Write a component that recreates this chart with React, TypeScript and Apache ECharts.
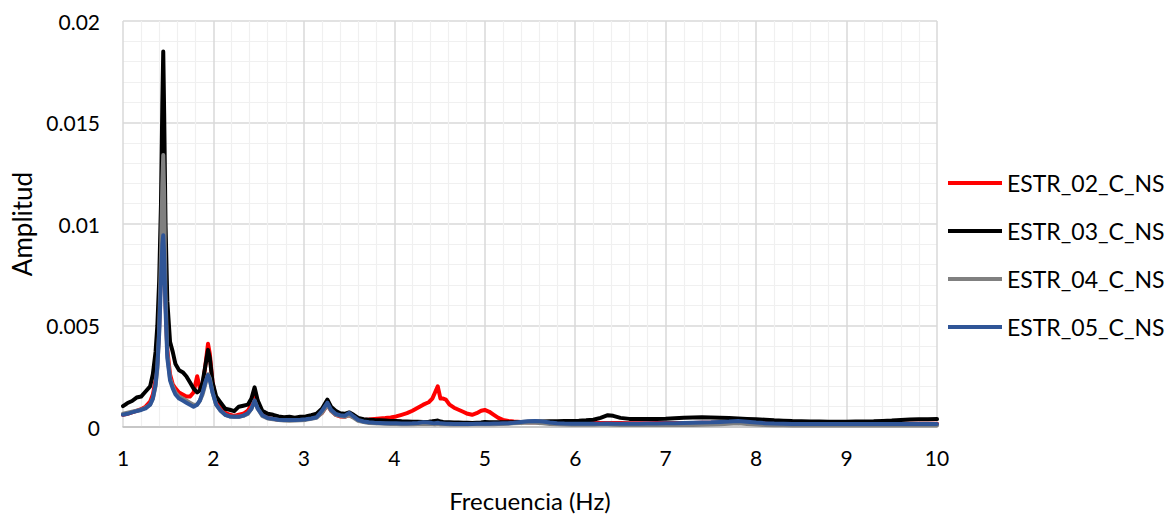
import React, { useEffect, useRef } from "react";
import * as echarts from "echarts";

const seriesNames = ["ESTR_02_C_NS", "ESTR_03_C_NS", "ESTR_04_C_NS", "ESTR_05_C_NS"];

const freq = [
  1.00, 1.05, 1.10, 1.15, 1.20, 1.25, 1.30, 1.33, 1.36, 1.38,
  1.40, 1.42, 1.435, 1.445, 1.455, 1.47, 1.49, 1.52, 1.55, 1.58,
  1.62, 1.66, 1.70, 1.74, 1.78, 1.82, 1.85, 1.88, 1.91, 1.94,
  1.96, 1.99, 2.03, 2.08, 2.13, 2.18, 2.23, 2.28, 2.33, 2.38,
  2.42, 2.455, 2.49, 2.54, 2.60, 2.66, 2.72, 2.78, 2.84, 2.90,
  2.96, 3.02, 3.08, 3.14, 3.20, 3.26, 3.30, 3.35, 3.40, 3.45,
  3.50, 3.55, 3.60, 3.66, 3.72, 3.78, 3.84, 3.90, 3.96, 4.02,
  4.08, 4.14, 4.20, 4.26, 4.32, 4.38, 4.42, 4.45, 4.48, 4.51,
  4.54, 4.57, 4.61, 4.66, 4.71, 4.76, 4.81, 4.86, 4.91, 4.96,
  5.00, 5.05, 5.10, 5.15, 5.20, 5.26, 5.32, 5.40, 5.48, 5.56,
  5.64, 5.72, 5.80, 5.88, 5.96, 6.04, 6.12, 6.20, 6.28, 6.36,
  6.42, 6.50, 6.60, 6.70, 6.80, 6.90, 7.00, 7.10, 7.20, 7.30,
  7.40, 7.50, 7.60, 7.70, 7.80, 7.90, 8.00, 8.10, 8.20, 8.30,
  8.40, 8.50, 8.60, 8.70, 8.80, 8.90, 9.00, 9.10, 9.20, 9.30,
  9.40, 9.50, 9.60, 9.70, 9.80, 9.90, 10.00,
];

const estr02 = [
  0.00060, 0.00065, 0.00072, 0.00080, 0.00088, 0.00100, 0.00125, 0.00160, 0.00230, 0.00320,
  0.0050, 0.0080, 0.0102, 0.0107, 0.0095, 0.0062, 0.0038, 0.0026, 0.0021, 0.0019,
  0.0017, 0.0016, 0.0015, 0.0015, 0.0017, 0.0025, 0.0019, 0.0020, 0.0030, 0.0041,
  0.0036, 0.0022, 0.0013, 0.0009, 0.0007, 0.0006, 0.00055, 0.0006, 0.00065, 0.0008,
  0.0011, 0.0015, 0.0010, 0.0006, 0.00045, 0.0004, 0.00036, 0.00035, 0.00036, 0.00036,
  0.00038, 0.0004, 0.00045, 0.0005, 0.0007, 0.0011, 0.0008, 0.0006, 0.00052, 0.0005,
  0.00058, 0.00048, 0.00038, 0.00035, 0.00037, 0.0004, 0.00042, 0.00044, 0.00047, 0.00052,
  0.0006, 0.00068, 0.0008, 0.00095, 0.0011, 0.00122, 0.0014, 0.0017, 0.0020, 0.0014,
  0.0014, 0.00135, 0.0011, 0.00095, 0.00085, 0.00075, 0.00065, 0.0006, 0.00068, 0.0008,
  0.00084, 0.00075, 0.0006, 0.00045, 0.00035, 0.0003, 0.00027, 0.00025, 0.00024, 0.00024,
  0.00024, 0.00023, 0.00022, 0.00022, 0.00023, 0.00022, 0.00021, 0.00021, 0.0002, 0.0002,
  0.0002, 0.0002, 0.00019, 0.00019, 0.00019, 0.0002, 0.0002, 0.0002, 0.0002, 0.0002,
  0.00021, 0.00021, 0.00022, 0.00023, 0.00024, 0.00023, 0.00022, 0.0002, 0.00019, 0.00018,
  0.00017, 0.00016, 0.00016, 0.00016, 0.00015, 0.00015, 0.00015, 0.00015, 0.00015, 0.00015,
  0.00015, 0.00015, 0.00016, 0.00016, 0.00016, 0.00016, 0.00016,
];

const estr03 = [
  0.00103, 0.00118, 0.00128, 0.00145, 0.00150, 0.00175, 0.00200, 0.00260, 0.00370, 0.00500,
  0.00720, 0.01100, 0.01600, 0.01850, 0.01550, 0.01000, 0.00620, 0.00420, 0.00370, 0.00310,
  0.0028, 0.0027, 0.0025, 0.0022, 0.0019, 0.0017, 0.0018, 0.0022, 0.0030, 0.0038,
  0.0034, 0.0022, 0.0015, 0.0012, 0.0009, 0.00085, 0.00078, 0.0010, 0.00105, 0.0011,
  0.0014, 0.00195, 0.0013, 0.0008, 0.00065, 0.0006, 0.00052, 0.00048, 0.0005, 0.00046,
  0.0005, 0.00052, 0.00058, 0.00065, 0.0009, 0.00135, 0.0010, 0.0008, 0.00068, 0.00065,
  0.00072, 0.0006, 0.00045, 0.00038, 0.00036, 0.00034, 0.00033, 0.00032, 0.0003, 0.0003,
  0.00028, 0.00027, 0.00026, 0.00026, 0.00025, 0.00026, 0.00028, 0.0003, 0.00032, 0.00027,
  0.00025, 0.00024, 0.00023, 0.00022, 0.00022, 0.00021, 0.00021, 0.0002, 0.00021, 0.00022,
  0.00025, 0.00024, 0.00024, 0.00023, 0.00023, 0.00024, 0.00024, 0.00025, 0.00026, 0.00027,
  0.00027, 0.00028, 0.00028, 0.00029, 0.0003, 0.00031, 0.00033, 0.00036, 0.00045, 0.00058,
  0.00055, 0.00045, 0.0004, 0.00039, 0.0004, 0.0004, 0.00041, 0.00043, 0.00045, 0.00047,
  0.00048, 0.00047, 0.00046, 0.00044, 0.00042, 0.0004, 0.00038, 0.00036, 0.00033, 0.00031,
  0.00029, 0.00028, 0.00027, 0.00027, 0.00026, 0.00026, 0.00026, 0.00027, 0.00027, 0.00028,
  0.0003, 0.00032, 0.00035, 0.00037, 0.00038, 0.00038, 0.00039,
];

const estr04 = [
  0.00065, 0.0007, 0.00075, 0.0008, 0.00085, 0.00095, 0.0011, 0.0014, 0.002, 0.0029,
  0.0048, 0.0085, 0.012, 0.0134, 0.0115, 0.0065, 0.0036, 0.0024, 0.002, 0.0017,
  0.0015, 0.0014, 0.0013, 0.0012, 0.0011, 0.0011, 0.0013, 0.0016, 0.0021, 0.0026,
  0.0024, 0.0017, 0.0011, 0.0008, 0.0006, 0.00052, 0.0005, 0.0005, 0.00055, 0.00065,
  0.0009, 0.0013, 0.0009, 0.00055, 0.00042, 0.00038, 0.00034, 0.00032, 0.00031, 0.00032,
  0.00033, 0.00035, 0.0004, 0.00045, 0.0007, 0.0011, 0.0008, 0.0006, 0.00055, 0.0005,
  0.00058, 0.00045, 0.0003, 0.00024, 0.0002, 0.00018, 0.00017, 0.00016, 0.00015, 0.00015,
  0.00014, 0.00014, 0.00014, 0.00015, 0.00016, 0.00015, 0.00015, 0.00014, 0.00016, 0.00014,
  0.00013, 0.00013, 0.00012, 0.00012, 0.00012, 0.00012, 0.00012, 0.00013, 0.00013, 0.00014,
  0.00014, 0.00014, 0.00014, 0.00015, 0.00015, 0.00016, 0.00018, 0.0002, 0.00022, 0.00021,
  0.00018, 0.00015, 0.00013, 0.00012, 0.00011, 0.00011, 0.00011, 0.00011, 0.00012, 0.00012,
  0.00011, 0.0001, 0.0001, 0.0001, 0.0001, 0.0001, 0.0001, 0.0001, 0.0001, 0.0001,
  0.00011, 0.00012, 0.00014, 0.00016, 0.00018, 0.00015, 0.00012, 0.0001, 0.00009, 0.00009,
  0.00008, 0.00008, 0.00008, 0.00008, 0.00008, 0.00008, 0.00008, 0.00008, 0.00008, 0.00008,
  0.00008, 0.00008, 0.00008, 0.00008, 0.00008, 0.00008, 0.00008,
];

const estr05 = [
  0.0006, 0.00065, 0.00072, 0.00078, 0.00084, 0.00092, 0.0011, 0.0014, 0.0021, 0.003,
  0.0046, 0.0072, 0.009, 0.00945, 0.0085, 0.0058, 0.0034, 0.0023, 0.0019, 0.0016,
  0.0014, 0.0013, 0.0012, 0.0011, 0.001, 0.0011, 0.0013, 0.0017, 0.0022, 0.00256,
  0.0023, 0.0017, 0.0011, 0.0008, 0.0006, 0.00052, 0.0005, 0.0005, 0.00056, 0.00068,
  0.0009, 0.0013, 0.0009, 0.00058, 0.00044, 0.0004, 0.00036, 0.00034, 0.00034, 0.00035,
  0.00036, 0.00038, 0.00042, 0.00048, 0.0008, 0.0012, 0.00085, 0.00065, 0.00058, 0.00055,
  0.0007, 0.00052, 0.00035, 0.00027, 0.00023, 0.00021, 0.0002, 0.00019, 0.00018, 0.00018,
  0.00017, 0.00017, 0.00018, 0.0002, 0.00024, 0.00022, 0.0002, 0.00019, 0.00021, 0.00018,
  0.00017, 0.00016, 0.00016, 0.00015, 0.00015, 0.00015, 0.00015, 0.00015, 0.00016, 0.00016,
  0.00016, 0.00016, 0.00017, 0.00017, 0.00018, 0.00019, 0.00021, 0.00025, 0.00028, 0.0003,
  0.00027, 0.00022, 0.00019, 0.00017, 0.00016, 0.00016, 0.00016, 0.00016, 0.00016, 0.00017,
  0.00016, 0.00016, 0.00016, 0.00016, 0.00017, 0.00017, 0.00018, 0.00019, 0.0002, 0.00021,
  0.00022, 0.00023, 0.00025, 0.00027, 0.0003, 0.00026, 0.00022, 0.00019, 0.00017, 0.00016,
  0.00015, 0.00015, 0.00015, 0.00015, 0.00015, 0.00015, 0.00015, 0.00015, 0.00015, 0.00015,
  0.00015, 0.00015, 0.00015, 0.00015, 0.00015, 0.00015, 0.00015,
];

const seriesValues = [estr02, estr03, estr04, estr05];
const colors = ["#ff0000", "#000000", "#808080", "#2f5597"];

const FONT = "Lato, 'Open Sans', sans-serif";

export default function App() {
  const ref = useRef<HTMLDivElement>(null);
  useEffect(() => {
    if (!ref.current) return;
    const chart = echarts.init(ref.current, null, { renderer: "svg" });
    chart.setOption({
      animation: false,
      backgroundColor: "#ffffff",
      textStyle: { fontFamily: FONT },
      grid: {
        left: 123,
        right: 239,
        top: 21,
        bottom: 88,
        containLabel: false,
        outerBoundsMode: "none",
      },
      legend: {
        orient: "vertical",
        left: 948,
        top: 170,
        padding: 0,
        itemWidth: 54,
        itemHeight: 4,
        itemGap: 22,
        icon: "rect",
        textStyle: { fontSize: 23, color: "#000", fontFamily: FONT, lineHeight: 26 },
        data: seriesNames,
      },
      xAxis: {
        type: "value",
        min: 1,
        max: 10,
        interval: 1,
        name: "Frecuencia (Hz)",
        nameLocation: "middle",
        nameGap: 61,
        nameTextStyle: { fontSize: 24, color: "#000", fontFamily: FONT },
        axisLine: { show: true, lineStyle: { color: "#bfbfbf", width: 1.5 } },
        axisTick: { show: false },
        axisLabel: { fontSize: 21, color: "#000", margin: 20, fontFamily: FONT },
        splitLine: { show: true, lineStyle: { color: "#d9d9d9", width: 1.5 } },
        minorTick: { show: false, splitNumber: 5 },
        minorSplitLine: { show: true, lineStyle: { color: "#f0f0f0", width: 1.2 } },
      },
      yAxis: {
        type: "value",
        min: 0,
        max: 0.02,
        interval: 0.005,
        name: "Amplitud",
        nameLocation: "middle",
        nameGap: 88,
        nameTextStyle: { fontSize: 26, color: "#000", fontFamily: FONT },
        axisLine: { show: false },
        axisTick: { show: false },
        axisLabel: {
          fontSize: 21,
          color: "#000",
          margin: 23,
          fontFamily: FONT,
          formatter: (v: number) => String(Number(v.toFixed(4))),
        },
        splitLine: { show: true, lineStyle: { color: "#d9d9d9", width: 1.5 } },
        minorTick: { show: false, splitNumber: 5 },
        minorSplitLine: { show: true, lineStyle: { color: "#f0f0f0", width: 1.2 } },
      },
      series: seriesNames.map((name, i) => ({
        name,
        type: "line",
        showSymbol: false,
        symbol: "none",
        smooth: false,
        color: colors[i],
        lineStyle: { color: colors[i], width: 4, join: "round", cap: "round" },
        itemStyle: { color: colors[i] },
        data: freq.map((f, k) => [f, seriesValues[i][k]]),
      })),
    });
    return () => chart.dispose();
  }, []);
  return (
    <div
      ref={ref}
      style={{ position: "absolute", left: 0, top: 0, width: 1176, height: 515 }}
    />
  );
}
